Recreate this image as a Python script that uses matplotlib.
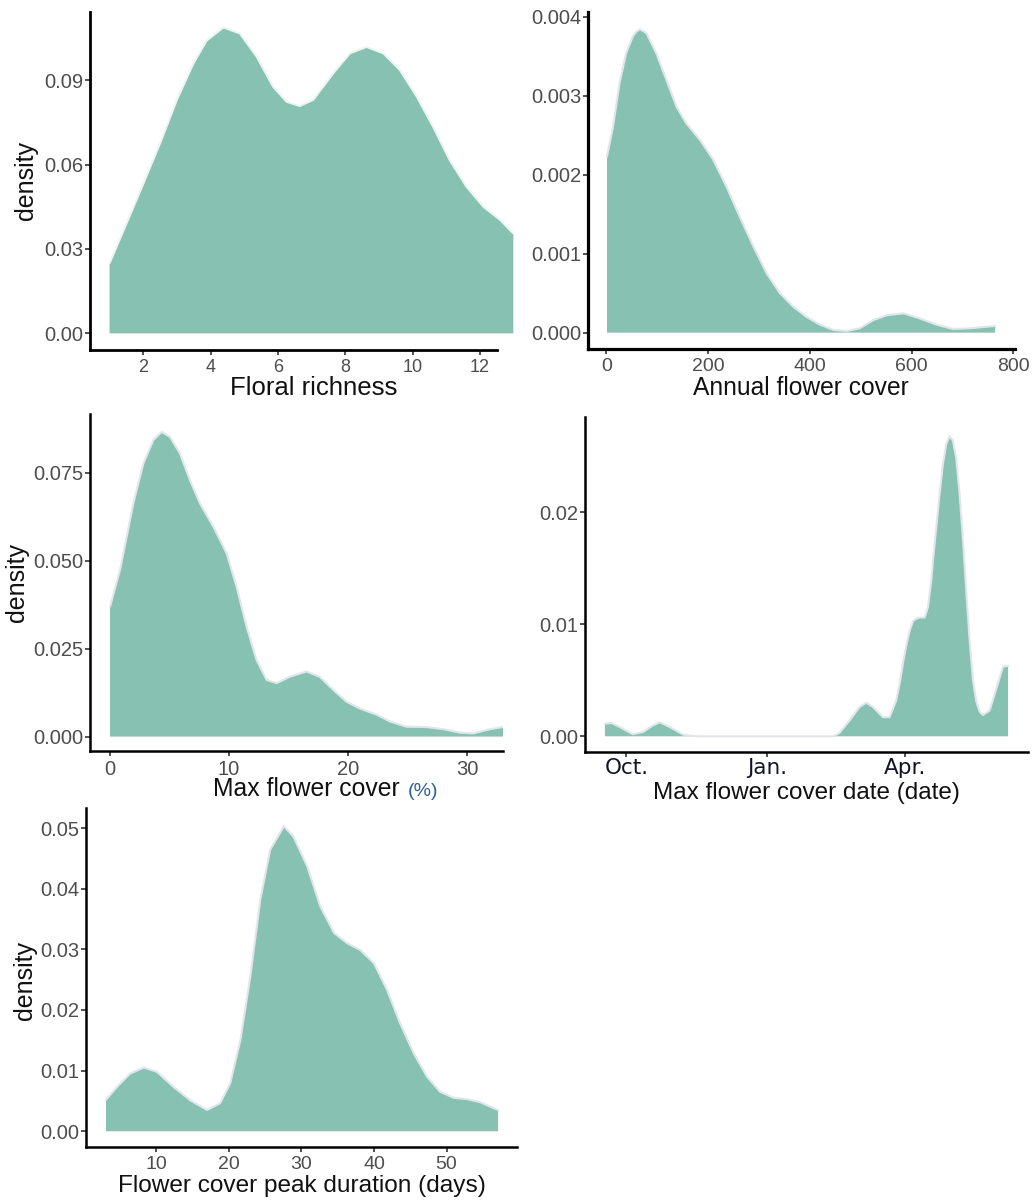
import matplotlib.pyplot as plt

plt.rcParams['font.family'] = ['Liberation Sans', 'DejaVu Sans']

FILL = '#86c1b1'
EDGE = '#e4e4ec'
TICK_GREY = '#4d4d4d'

# Floral richness
rich_x = [1.0, 1.8, 2.5, 3.0, 3.49, 3.88, 4.38, 4.87, 5.37, 5.86, 6.26, 6.65, 7.05,
          7.64, 8.14, 8.63, 9.13, 9.62, 10.12, 10.61, 11.1, 11.6, 12.1, 12.6, 12.99]
rich_y = [0.0249, 0.0474, 0.0675, 0.083, 0.0959, 0.104, 0.1087, 0.1066, 0.0983, 0.0876,
          0.0823, 0.0808, 0.083, 0.0924, 0.0995, 0.1018, 0.0995, 0.0936, 0.0842, 0.0734,
          0.0616, 0.0521, 0.045, 0.0403, 0.0355]

# Annual flower cover
annual_x = [1.3, 13, 26, 39, 52, 59, 66, 72, 79, 98, 118, 138, 157, 184, 210, 236, 262,
            289, 315, 341, 367, 393, 420, 446, 472, 498, 525, 551, 584, 616, 649, 682,
            715, 748, 764]
annual_y = [0.00223, 0.0026, 0.00316, 0.00354, 0.00375, 0.00381, 0.00384, 0.00382,
            0.00379, 0.00354, 0.0032, 0.00286, 0.00265, 0.00244, 0.00219, 0.00185,
            0.00147, 0.00109, 0.00075, 0.0005, 0.00033, 0.0002, 0.0001, 0.000034,
            0.00002, 0.000055, 0.00016, 0.00022, 0.000245, 0.00018, 0.0001, 0.000046,
            0.000055, 0.000076, 0.000084]

# Max flower cover (%)
maxcov_x = [0, 0.84, 1.96, 2.8, 3.64, 4.34, 5.03, 5.87, 6.71, 7.55, 8.67, 9.79, 10.63,
            11.47, 12.3, 13.15, 13.99, 15.1, 16.5, 17.6, 18.74, 19.86, 20.98, 22.4,
            23.5, 24.9, 26.6, 28.0, 29.4, 30.5, 31.9, 33.0]
maxcov_y = [0.0369, 0.0473, 0.0663, 0.0776, 0.0843, 0.0866, 0.0852, 0.0805, 0.0729,
            0.0663, 0.0597, 0.0521, 0.0426, 0.0312, 0.0218, 0.0161, 0.0152, 0.017,
            0.0185, 0.017, 0.0133, 0.0099, 0.008, 0.0062, 0.0043, 0.0028, 0.0027,
            0.0021, 0.0011, 0.0009, 0.0021, 0.0027]

# Max flower cover date (days from 1 October)
date_x = [-14, -9.8, -4.3, 4.3, 10.9, 17.4, 21.7, 28.3, 37, 45.7, 135, 139, 145.7, 152,
          156.5, 161, 167.4, 171.7, 176, 178.3, 180.4, 182.6, 184.8, 187.0, 189.1,
          191.3, 194.6, 196.7, 198.9, 200, 202.2, 204.3, 206.5, 208.7, 210.9, 213.0,
          215.2, 217.4, 219.6, 221.7, 223.9, 226.1, 228.3, 230.4, 232.6, 237, 241,
          245.7, 249]
date_y = [0.00113, 0.00119, 0.00083, 0.00018, 0.00039, 0.00098, 0.00125, 0.00083,
          0.00015, 0.0, 0.0, 0.0003, 0.00143, 0.0026, 0.0030, 0.0026, 0.0017, 0.0017,
          0.0032, 0.0047, 0.0065, 0.0081, 0.0094, 0.0103, 0.0105, 0.0106, 0.0106,
          0.0115, 0.0139, 0.0157, 0.0187, 0.0216, 0.0243, 0.0261, 0.0268, 0.0264,
          0.0248, 0.0216, 0.0175, 0.013, 0.0086, 0.005, 0.0031, 0.0022, 0.0019,
          0.0023, 0.0041, 0.0062, 0.0063]
date_ticks = [0, 92, 182]
date_labels = ['Oct.', 'Jan.', 'Apr.']

# Flower cover peak duration (days)
dur_x = [3.1, 4.6, 6.4, 8.3, 10.1, 12.4, 14.7, 17.0, 18.8, 20.2, 21.6, 22.97, 24.35,
         25.7, 27.6, 28.9, 30.8, 32.6, 34.5, 36.3, 38.1, 40.0, 41.8, 43.6, 45.5, 47.3,
         49.1, 51.0, 52.8, 54.6, 57.1]
dur_y = [0.0052, 0.0073, 0.0095, 0.0105, 0.0098, 0.0073, 0.0051, 0.0035, 0.0046,
         0.0079, 0.015, 0.0255, 0.0382, 0.0464, 0.0503, 0.0486, 0.0437, 0.0371,
         0.0327, 0.031, 0.0299, 0.0277, 0.0233, 0.0178, 0.0128, 0.009, 0.0065,
         0.0055, 0.0053, 0.0048, 0.0035]

W, H = 1034, 1200
fig = plt.figure(figsize=(W / 100, H / 100), dpi=100)


def panel(left, right, top, bottom, xlim, ylim, xs, ys, yticks, yfmt,
          xticks=None, edge=EDGE, spine_w=1.8, spine_end=None, ysize=14.5, xsize=14):
    ax = fig.add_axes([left / W, 1 - bottom / H, (right - left) / W, (bottom - top) / H])
    ax.fill_between(xs, ys, 0, color=FILL, edgecolor='none', zorder=2)
    ax.plot(xs, ys, color=edge, lw=1.5, zorder=3, solid_capstyle='round')
    ax.set_xlim(*xlim)
    ax.set_ylim(*ylim)
    for s in ['top', 'right']:
        ax.spines[s].set_visible(False)
    for s in ['left', 'bottom']:
        ax.spines[s].set_linewidth(spine_w)
        ax.spines[s].set_color('black')
    if spine_end is not None:
        ax.spines['bottom'].set_bounds(xlim[0], spine_end)
    ax.set_yticks(yticks)
    ax.set_yticklabels([yfmt.format(v) for v in yticks])
    if xticks is not None:
        ax.set_xticks(xticks)
    ax.tick_params(length=3.5, width=1.2, color='#333333', labelcolor=TICK_GREY)
    ax.tick_params(axis='y', labelsize=ysize, pad=1.5)
    ax.tick_params(axis='x', labelsize=xsize, pad=3)
    return ax


# Row 1
panel(90, 514, 12, 350, (0.42, 13.01), (-0.0059, 0.1142), rich_x, rich_y,
      [0.0, 0.03, 0.06, 0.09], '{:.2f}', xticks=[2, 4, 6, 8, 10, 12],
      edge='#f2f2f2', spine_w=2.0, spine_end=12.5, xsize=13)
fig.text(314 / W, 1 - 395 / H, 'Floral richness', ha='center', va='baseline',
         fontsize=18.5, color='#111111')
fig.text(26 / W, 1 - 180 / H, 'density', ha='center', va='center', rotation=90,
         fontsize=18, color='#111111')

panel(588, 1015, 12, 349, (-36, 803), (-0.000207, 0.00406), annual_x, annual_y,
      [0.0, 0.001, 0.002, 0.003, 0.004], '{:.3f}', xticks=[0, 200, 400, 600, 800],
      spine_w=2.3)
fig.text(801 / W, 1 - 395 / H, 'Annual flower cover', ha='center', va='baseline',
         fontsize=17.7, color='#111111')

# Row 2
panel(90, 503, 414, 751, (-1.68, 33.0), (-0.0041, 0.0917), maxcov_x, maxcov_y,
      [0.0, 0.025, 0.05, 0.075], '{:.3f}', xticks=[0, 10, 20, 30], xsize=14.5)
fig.text(213 / W, 1 - 796 / H, 'Max flower cover', ha='left', va='baseline',
         fontsize=17.8, color='#111111')
fig.text(408 / W, 1 - 796 / H, '(%)', ha='left', va='baseline',
         fontsize=14, color='#2f5f96')
fig.text(17 / W, 1 - 583 / H, 'density', ha='center', va='center', rotation=90,
         fontsize=18, color='#111111')

ax4 = panel(585, 1028, 417, 752, (-27, 262), (-0.0014, 0.0285), date_x, date_y,
            [0.0, 0.01, 0.02], '{:.2f}', xticks=date_ticks)
ax4.set_xticklabels(date_labels, family='DejaVu Sans', fontsize=15.5, color='#141428')
ax4.tick_params(axis='x', pad=1)
fig.text(806 / W, 1 - 799 / H, 'Max flower cover date (date)', ha='center',
         va='baseline', fontsize=17.5, color='#111111')

# Row 3
panel(86, 517, 808, 1147, (0.34, 59.7), (-0.0026, 0.0533), dur_x, dur_y,
      [0.0, 0.01, 0.02, 0.03, 0.04, 0.05], '{:.2f}', xticks=[10, 20, 30, 40, 50])
fig.text(302 / W, 1 - 1192 / H, 'Flower cover peak duration (days)', ha='center',
         va='baseline', fontsize=17.6, color='#111111')
fig.text(25 / W, 1 - 980 / H, 'density', ha='center', va='center', rotation=90,
         fontsize=18, color='#111111')

fig.savefig('out.png', dpi=100, facecolor='white')
